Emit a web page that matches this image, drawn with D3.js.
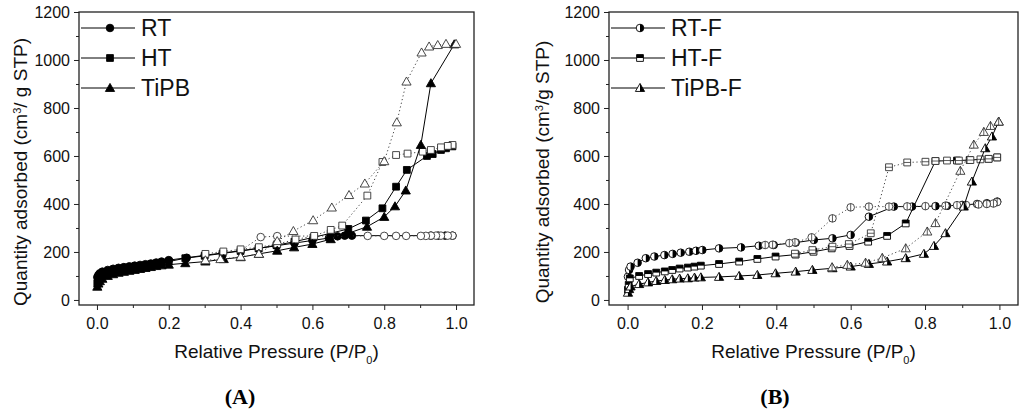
<!DOCTYPE html>
<html>
<head>
<meta charset="utf-8">
<script src="https://cdn.jsdelivr.net/npm/d3@7"></script>
<style>
  body { margin: 0; background: #fff; }
  svg { display: block; font-family: "Liberation Sans", Arial, sans-serif; }
</style>
</head>
<body>
<div id="chart"></div>
<script>
// ---- data ----
// panel A: adsorption (filled) / desorption (open)
const rtAdsP = [0.001,0.004,0.008,0.015,0.03,0.045,0.06,0.075,0.09,0.105,0.12,0.135,0.15,0.165,0.18,0.20,0.25,0.30,0.35,0.40,0.45,0.50,0.55,0.60,0.646,0.67,0.69,0.71,0.93,0.95,0.97,0.99];
const rtAdsQ = [95,104,111,118,125,130,134,137,140,143,146,149,152,156,160,166,176,186,196,205,215,226,237,248,258,265,268,268,268,268,268,268];
const rtDesP = [0.99,0.977,0.958,0.944,0.93,0.916,0.902,0.861,0.833,0.80,0.754,0.502,0.456,0.40];
const rtDesQ = [268,268,268,268,268,267,267,267,267,267,267,266,262,206];

const htAdsP = [0.001,0.004,0.008,0.015,0.03,0.045,0.06,0.075,0.09,0.105,0.12,0.135,0.15,0.165,0.18,0.20,0.246,0.30,0.35,0.40,0.45,0.50,0.55,0.603,0.651,0.70,0.749,0.795,0.833,0.863,0.919,0.935,0.958,0.972,0.99];
const htAdsQ = [70,85,95,103,112,118,123,127,131,135,139,143,147,151,155,160,174,184,194,204,215,228,243,261,278,296,331,382,472,542,600,608,625,632,640];
const htDesP = [0.99,0.977,0.958,0.93,0.907,0.865,0.833,0.795,0.753,0.683,0.651,0.605,0.553,0.502,0.451,0.40,0.352,0.302];
const htDesQ = [646,642,636,625,618,610,604,575,435,310,292,267,252,233,220,211,202,192];

const tipbAdsP = [0.001,0.004,0.008,0.015,0.03,0.045,0.06,0.075,0.09,0.105,0.12,0.135,0.15,0.165,0.18,0.20,0.246,0.302,0.353,0.40,0.451,0.502,0.549,0.60,0.651,0.70,0.752,0.80,0.83,0.86,0.902,0.93,0.995];
const tipbAdsQ = [55,68,78,88,100,107,113,117,121,125,129,133,137,141,144,147,153,160,170,178,192,205,219,233,253,278,305,346,390,456,646,903,1065];
const tipbDesP = [1.0,0.972,0.949,0.925,0.904,0.862,0.835,0.80,0.746,0.702,0.654,0.602,0.547,0.502,0.451,0.40,0.344,0.302];
const tipbDesQ = [1067,1067,1062,1056,1031,910,740,578,485,437,385,332,287,245,192,180,170,165];

// panel B: adsorption (half filled) / desorption (barred)
const rtfAdsP = [0.001,0.004,0.008,0.027,0.049,0.072,0.099,0.121,0.143,0.166,0.184,0.201,0.246,0.305,0.353,0.393,0.452,0.501,0.551,0.60,0.649,0.716,0.765,0.828,0.859,0.90,0.94,0.966,0.994];
const rtfAdsQ = [97,125,139,155,174,181,187,192,197,201,205,208,215,219,226,229,239,250,257,271,347,389,389,391,392,396,400,403,410];
const rtfDesP = [0.994,0.984,0.966,0.944,0.91,0.886,0.855,0.801,0.752,0.703,0.649,0.60,0.551,0.495,0.45,0.435,0.39,0.37];
const rtfDesQ = [408,402,400,398,396,395,393,391,390,389,389,386,340,261,240,237,230,229];

const htfAdsP = [0.001,0.003,0.006,0.031,0.055,0.077,0.10,0.12,0.14,0.162,0.18,0.197,0.246,0.30,0.349,0.398,0.452,0.50,0.549,0.597,0.647,0.698,0.748,0.828,0.886,0.92,0.971,0.994];
const htfAdsQ = [42,63,90,100,108,114,119,125,131,135,139,143,150,160,171,181,189,201,215,225,243,267,319,579,581,583,588,594];
const htfDesP = [0.994,0.971,0.949,0.922,0.891,0.859,0.828,0.801,0.752,0.703,0.654,0.595,0.551,0.497,0.45];
const htfDesQ = [594,588,586,583,581,581,579,576,573,553,278,233,222,208,193];

const tipbfAdsP = [0.001,0.004,0.008,0.031,0.055,0.077,0.10,0.12,0.14,0.162,0.18,0.197,0.246,0.30,0.349,0.398,0.452,0.497,0.551,0.60,0.649,0.698,0.748,0.797,0.824,0.855,0.904,0.926,0.962,0.98,0.998];
const tipbfAdsQ = [30,45,56,66,73,79,83,86,89,90,93,94,96,100,104,111,118,125,132,139,150,160,174,192,225,278,389,493,632,681,743];
const tipbfDesP = [0.998,0.976,0.958,0.931,0.895,0.828,0.806,0.748,0.685,0.64,0.591,0.55];
const tipbfDesQ = [743,725,700,647,538,320,285,215,175,155,146,136];

const legendA = ["RT", "HT", "TiPB"];
const legendB = ["RT-F", "HT-F", "TiPB-F"];
const xMajor = [0, 0.2, 0.4, 0.6, 0.8, 1.0];
const xMinor = [0.1, 0.3, 0.5, 0.7, 0.9];
const yMajor = [0, 200, 400, 600, 800, 1000, 1200];
const yMinor = [100, 300, 500, 700, 900, 1100];

// ---- drawing ----
const width = 1024, height = 416;
const svg = d3.select("#chart").append("svg")
    .attr("width", width)
    .attr("height", height);

const zip = (p, q) => p.map((v, i) => [v, q[i]]);

const panels = [
    {
        left: 79, right: 474, tag: "(A)", tagX: 240, titleX: 27, yTitleGap: " g STP)",
        series: [
            { shape: "circle", ads: zip(rtAdsP, rtAdsQ), des: zip(rtDesP, rtDesQ) },
            { shape: "square", ads: zip(htAdsP, htAdsQ), des: zip(htDesP, htDesQ) },
            { shape: "triangle", ads: zip(tipbAdsP, tipbAdsQ), des: zip(tipbDesP, tipbDesQ) }
        ],
        adsStyle: "filled", desStyle: "open", labels: legendA
    },
    {
        left: 609, right: 1018, tag: "(B)", tagX: 775, titleX: 549, yTitleGap: "g STP)",
        series: [
            { shape: "circle", ads: zip(rtfAdsP, rtfAdsQ), des: zip(rtfDesP, rtfDesQ) },
            { shape: "square", ads: zip(htfAdsP, htfAdsQ), des: zip(htfDesP, htfDesQ) },
            { shape: "triangle", ads: zip(tipbfAdsP, tipbfAdsQ), des: zip(tipbfDesP, tipbfDesQ) }
        ],
        adsStyle: "half", desStyle: "barred", labels: legendB
    }
];

// marker outlines, centred on 0,0
const R = 3.8, S = 3.4, T = 4.6;
const outline = {
    circle: `M${-R},0A${R},${R} 0 1 0 ${R},0A${R},${R} 0 1 0 ${-R},0Z`,
    square: `M${-S},${-S}H${S}V${S}H${-S}Z`,
    triangle: `M0,${-T}L${T},${T * 0.75}L${-T},${T * 0.75}Z`
};
const halfFill = {
    circle: `M0,${-R}A${R},${R} 0 0 1 0,${R}Z`,
    square: `M${-S},${-S}H${S}V0H${-S}Z`,
    triangle: `M0,${-T}L${T},${T * 0.75}L0,${T * 0.75}Z`
};
const bar = {
    circle: `M0,${-R}V${R}`,
    square: `M${-S},0H${S}`,
    triangle: `M0,${-T}V${T * 0.75}`
};

function drawMarkers(g, pts, shape, style) {
    const m = g.selectAll(null)
        .data(pts)
        .enter()
        .append("g")
        .attr("transform", d => `translate(${d[0]},${d[1]})`);
    const isOpen = style === "open" || style === "barred";
    m.append("path")
        .attr("d", outline[shape])
        .attr("fill", style === "filled" ? "#000" : "#fff")
        .attr("stroke", isOpen ? "#333" : "#000")
        .attr("stroke-width", 0.9);
    if (style === "half") {
        m.append("path").attr("d", halfFill[shape]).attr("fill", "#000");
    }
    if (style === "barred") {
        m.append("path").attr("d", bar[shape]).attr("stroke", "#333").attr("stroke-width", 0.8);
    }
}

panels.forEach(p => {
    const x = d3.scaleLinear().domain([-0.05, 1.05]).range([p.left, p.right]);
    const y = d3.scaleLinear().domain([-21, 1200]).range([305, 12]);
    const g = svg.append("g");

    // axes (outward ticks, major + minor)
    g.append("g").attr("transform", `translate(0,${y(-21)})`)
        .call(d3.axisBottom(x).tickValues(xMajor).tickSize(5).tickPadding(8).tickFormat(d3.format(".1f")));
    g.append("g").attr("transform", `translate(0,${y(-21)})`)
        .call(d3.axisBottom(x).tickValues(xMinor).tickSize(3).tickFormat(""));
    const yAxis = g.append("g").attr("transform", `translate(${x(-0.05)},0)`)
        .call(d3.axisLeft(y).tickValues(yMajor).tickSize(5).tickPadding(4).tickFormat(d3.format("d")));
    g.append("g").attr("transform", `translate(${x(-0.05)},0)`)
        .call(d3.axisLeft(y).tickValues(yMinor).tickSize(3).tickFormat(""));
    g.selectAll(".domain").remove();
    g.selectAll(".tick line").attr("stroke", "#222");
    g.selectAll(".tick text")
        .attr("font-size", 16)
        .attr("font-family", "Liberation Sans, Arial, sans-serif")
        .attr("fill", "#111");
    yAxis.selectAll(".tick text").attr("dy", "0.36em");

    // frame
    g.append("rect")
        .attr("x", x(-0.05)).attr("y", y(1200))
        .attr("width", x(1.05) - x(-0.05)).attr("height", y(-21) - y(1200))
        .attr("fill", "none").attr("stroke", "#222").attr("stroke-width", 1.3);

    // curves
    const line = d3.line().x(d => x(d[0])).y(d => y(d[1]));
    const plot = g.append("g");
    p.series.forEach(s => {
        plot.append("path").datum(s.ads).attr("d", line)
            .attr("fill", "none").attr("stroke", "#000").attr("stroke-width", 1);
        drawMarkers(plot, s.ads.map(d => [x(d[0]), y(d[1])]), s.shape, p.adsStyle);
        plot.append("path").datum(s.des).attr("d", line)
            .attr("fill", "none").attr("stroke", "#444").attr("stroke-width", 1)
            .attr("stroke-dasharray", "1.2,2.6");
        drawMarkers(plot, s.des.map(d => [x(d[0]), y(d[1])]), s.shape, p.desStyle);
    });

    // legend
    const lg = g.append("g");
    p.labels.forEach((label, i) => {
        const ly = 28 + i * 30;
        lg.append("line")
            .attr("x1", p.left + 2).attr("x2", p.left + 56)
            .attr("y1", ly).attr("y2", ly)
            .attr("stroke", "#000").attr("stroke-width", 1);
        drawMarkers(lg, [[p.left + 31, ly]], p.series[i].shape, p.adsStyle);
        lg.append("text")
            .attr("x", p.left + 62).attr("y", ly + 8)
            .attr("font-size", 23).attr("fill", "#111")
            .text(label);
    });

    // axis titles
    const xt = g.append("text")
        .attr("x", (p.left + p.right) / 2).attr("y", 358)
        .attr("text-anchor", "middle").attr("font-size", 19).attr("fill", "#111");
    xt.append("tspan").text("Relative Pressure (P/P");
    xt.append("tspan").attr("baseline-shift", "sub").attr("font-size", 11).text("0");
    xt.append("tspan").text(")");

    const yt = g.append("text")
        .attr("transform", `translate(${p.titleX},172) rotate(-90)`)
        .attr("text-anchor", "middle").attr("font-size", 19).attr("fill", "#111");
    yt.append("tspan").text("Quantity adsorbed (cm");
    yt.append("tspan").attr("baseline-shift", "super").attr("font-size", 11).text("3");
    yt.append("tspan").text("/" + p.yTitleGap);

    // panel tag
    g.append("text")
        .attr("x", p.tagX).attr("y", 404)
        .attr("text-anchor", "middle")
        .attr("font-family", "Liberation Serif, Times New Roman, serif")
        .attr("font-weight", "bold").attr("font-size", 22)
        .text(p.tag);
});
</script>
</body>
</html>
